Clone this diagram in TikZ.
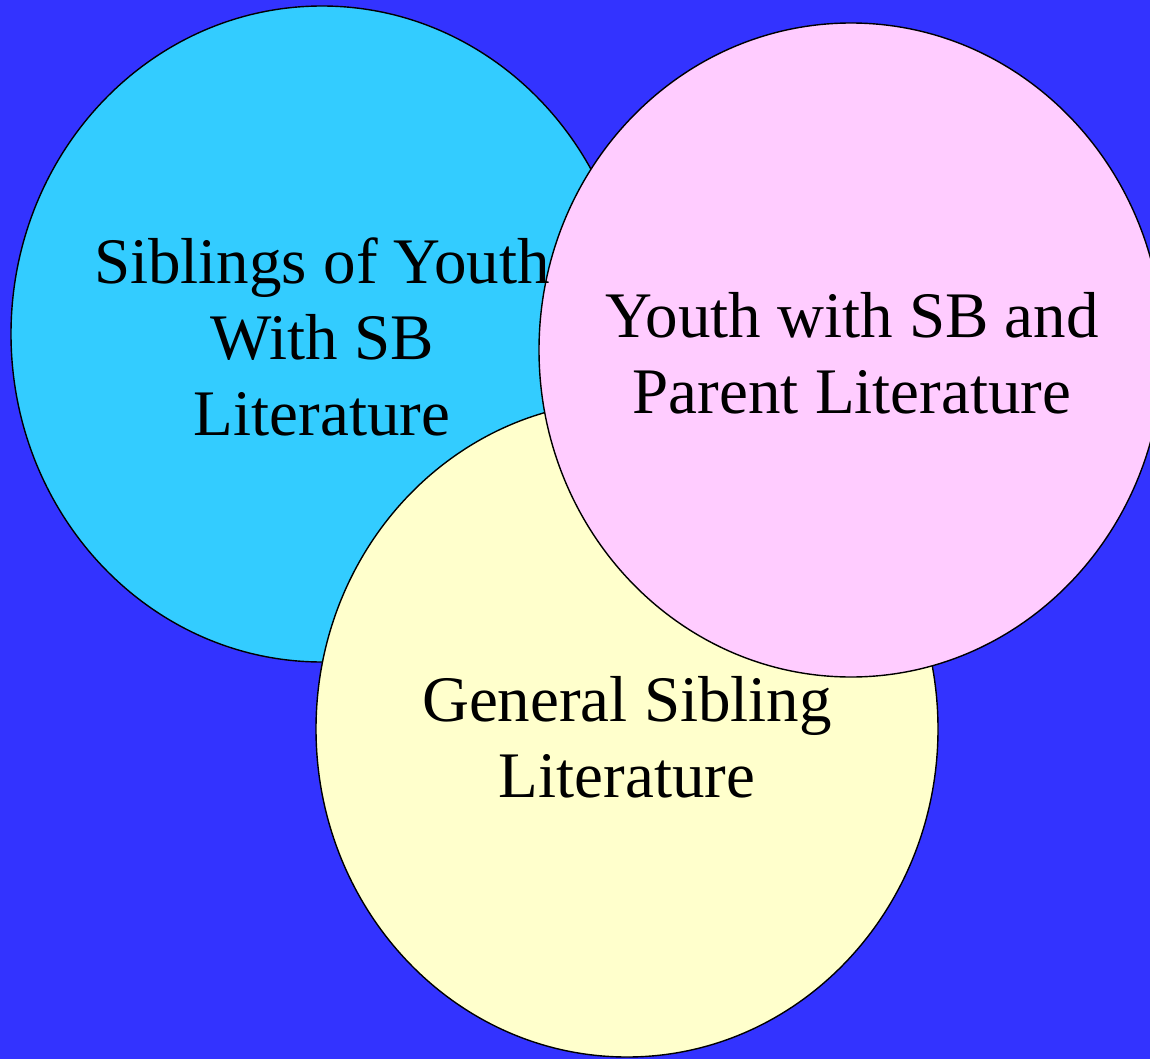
\documentclass[tikz,border=0pt]{standalone}
\usepackage{fontspec}
\setmainfont{Liberation Serif}
\definecolor{bgblue}{HTML}{3333FF}
\definecolor{sibcyan}{HTML}{33CCFF}
\definecolor{genyellow}{HTML}{FFFFCC}
\definecolor{parpink}{HTML}{FFCCFF}

\begin{document}
\begin{tikzpicture}[x=1pt, y=-1pt,
    setring/.style={draw=black, line width=1.4pt},
    lbl/.style={align=center, inner sep=0pt, font=\fontsize{65}{76}\selectfont}]

    % background
    \fill[bgblue] (0,0) rectangle (1150,1059);
    \useasboundingbox (0,0) rectangle (1150,1059);

    % centres of the three sets
    \coordinate (C1) at (322,334);
    \coordinate (C2) at (627,729);
    \coordinate (C3) at (851,350);

    % sets, back to front
    \begin{scope}
        \clip (0,0) rectangle (1150,1059);
        \draw[setring, fill=sibcyan] (C1) ellipse [x radius=311pt, y radius=328pt];
        \draw[setring, fill=genyellow] (C2) ellipse [x radius=311pt, y radius=328pt];
        \draw[setring, fill=parpink] (C3) ellipse [x radius=312pt, y radius=327pt];
    \end{scope}

    % set labels
    \node[lbl] (sibyouth) at (322,337) {Siblings of Youth\\With SB\\Literature};
    \node[lbl] (general) at (627,737) {General Sibling\\Literature};
    \node[lbl] (youthpar) at (852,353) {Youth with SB and\\Parent Literature};

\end{tikzpicture}
\end{document}
